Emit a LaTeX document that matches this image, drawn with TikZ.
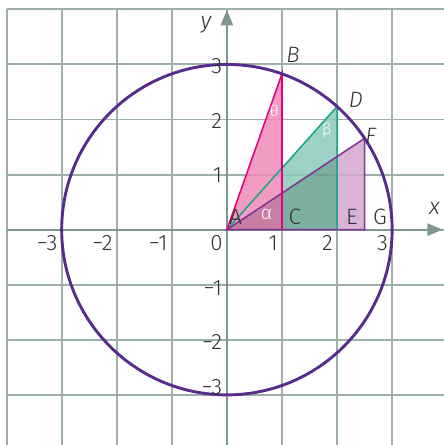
\documentclass[tikz,border=0pt]{standalone}
\usepackage{fontspec}
\setmainfont{Fira Sans}[UprightFont=* Light, ItalicFont=* Light Italic]
\usetikzlibrary{arrows.meta,calc}
\definecolor{gridc}{RGB}{158,176,170}
\definecolor{axisc}{RGB}{125,150,143}
\definecolor{circc}{RGB}{88,44,140}
\definecolor{pinkl}{RGB}{230,0,126}
\definecolor{greenl}{RGB}{26,166,136}
\definecolor{purpl}{RGB}{130,50,148}
\definecolor{txt}{RGB}{50,50,50}
\definecolor{fpink}{RGB}{240,137,184}
\definecolor{fmauve}{RGB}{190,102,149}
\definecolor{fteal}{RGB}{137,202,184}
\definecolor{fdteal}{RGB}{102,161,145}
\definecolor{flpurp}{RGB}{211,167,207}
\begin{document}
\begin{tikzpicture}[
  gridline/.style={draw=gridc, line width=1pt},
  axisline/.style={draw=axisc, line width=1.1pt, -{Triangle[length=2.8mm,width=2.2mm,fill=axisc]}},
  region/.style={fill opacity=0.85},
  tri/.style={line width=0.8pt, line join=miter},
  ticklab/.style={font=\fontsize{11.5}{11.5}\selectfont, text=txt, inner sep=0pt},
  ptlab/.style={font=\fontsize{11.5}{11.5}\selectfont, text=txt, inner sep=0pt, anchor=base},
  axlab/.style={font=\fontsize{12}{12}\selectfont\itshape, text=txt, inner sep=0pt, anchor=base},
  greek/.style={font=\fontsize{8}{8}\selectfont, text=white, inner sep=0pt}
]
\useasboundingbox (-4.12,-3.91) rectangle (3.94,4.17);
% grid
\draw[gridline] (-4,-3.95) grid (3.98,4);
% named points
\coordinate (O) at (0,0);
\coordinate (A) at (0,0);
\coordinate (B) at (1,2.8284);
\coordinate (C) at (1,0);
\coordinate (D) at (2,2.2361);
\coordinate (E) at (2,0);
\coordinate (F) at (2.5,1.6583);
\coordinate (G) at (2.5,0);
\coordinate (P1) at ($(A)!0.4!(F)$);
\coordinate (P2) at ($(A)!0.8!(F)$);
\coordinate (Q1) at ($(A)!0.5!(D)$);
\coordinate (xs) at (-4,0);
\coordinate (xe) at (3.92,0);
\coordinate (ys) at (0,-3.95);
\coordinate (ye) at (0,3.99);
% fills
\fill[region, fpink] (A) -- (B) -- (P1) -- cycle;
\fill[region, fmauve] (A) -- (P1) -- (C) -- cycle;
\fill[region, fteal] (P1) -- (Q1) -- (D) -- (P2) -- cycle;
\fill[region, fdteal] (C) -- (P1) -- (P2) -- (E) -- cycle;
\fill[region, flpurp] (E) -- (P2) -- (F) -- (G) -- cycle;
% axes
\draw[axisline] (xs) -- (xe);
\draw[axisline] (ys) -- (ye);
% triangle outlines
\draw[tri, greenl] (A) -- (D) -- (E);
\draw[tri, purpl] (A) -- (F) -- (G) -- cycle;
\draw[tri, pinkl] (A) -- (B) -- (C);
% circle
\draw[circc, line width=1.5pt] (O) circle (3);
% tick labels
\foreach \k/\t in {-3/−3,-2/−2,-1/−1,0/0,1/1,2/2,3/3}
  \node[ticklab, anchor=base east] (xl\k) at (\k-0.07,-0.37) {\t};
\foreach \k/\yy/\t in {3/2.84/3,2/1.84/2,1/0.85/1,-1/-1.19/−1,-2/-2.18/−2,-3/-3.0/−3}
  \node[ticklab, anchor=base east] (yl\k) at (-0.08,\yy) {\t};
% axis labels
\node[axlab] (xlab) at (3.77,0.27) {x};
\node[axlab] (ylab) at (-0.38,3.66) {y};
% point labels
\node[ptlab] (lA) at (0.16,0.085) {A};
\node[ptlab] (lC) at (1.23,0.085) {C};
\node[ptlab] (lE) at (2.27,0.085) {E};
\node[ptlab] (lG) at (2.78,0.085) {G};
\node[ptlab, font=\fontsize{11.5}{11.5}\selectfont\itshape] (lB) at (1.2,3.04) {B};
\node[ptlab, font=\fontsize{11.5}{11.5}\selectfont\itshape] (lD) at (2.34,2.21) {D};
\node[ptlab, font=\fontsize{11.5}{11.5}\selectfont\itshape] (lF) at (2.61,1.57) {F};
% angle labels
\node[greek] (th) at (0.86,2.16) {θ};
\node[greek] (be) at (1.81,1.81) {β};
\node[greek, font=\fontsize{10}{10}\selectfont] (al) at (0.72,0.28) {α};
\end{tikzpicture}
\end{document}
